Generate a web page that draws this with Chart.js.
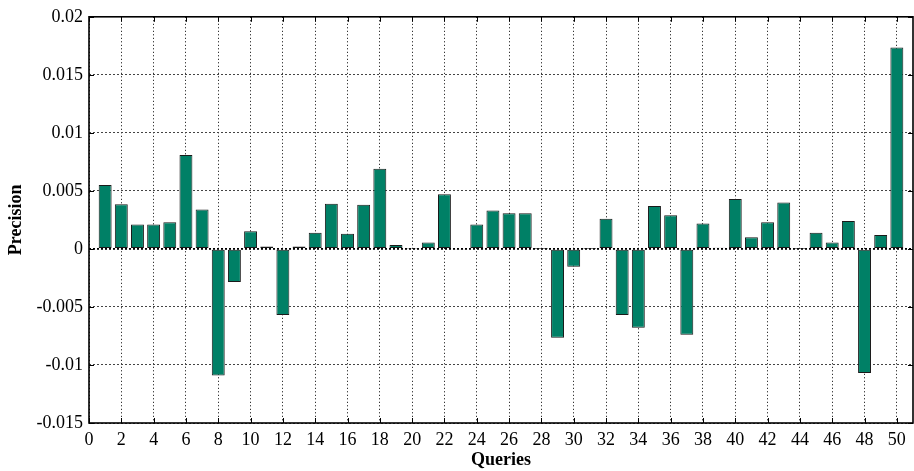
<!DOCTYPE html>
<html>
<head>
<meta charset="utf-8">
<script src="https://cdn.jsdelivr.net/npm/chart.js@4/dist/chart.umd.min.js"></script>
<style>
html,body{margin:0;padding:0;background:#fff;overflow:hidden;}
#c{display:block;}
</style>
</head>
<body>
<canvas id="c" width="914" height="471"></canvas>
<script>
const queries = [1,2,3,4,5,6,7,8,9,10,11,12,13,14,15,16,17,18,19,20,21,22,23,24,25,26,27,28,29,30,31,32,33,34,35,36,37,38,39,40,41,42,43,44,45,46,47,48,49,50];
const precision = [
  0.0055, 0.00385, 0.0021, 0.0021, 0.0023, 0.0081, 0.0034, -0.0109, -0.00285, 0.00153,
  0.0002, -0.0057, 0.0002, 0.0014, 0.0039, 0.0013, 0.0038, 0.0069, 0.00033, 0.00003,
  0.00056, 0.0047, -0.00004, 0.0021, 0.0033, 0.00307, 0.00307, 0.00002, -0.00765, -0.00153,
  0.00002, 0.0026, -0.0057, -0.0068, 0.0037, 0.0029, -0.0074, 0.0022, 0.0001, 0.0043,
  0.001, 0.0023, 0.0040, 0.00002, 0.0014, 0.00056, 0.0024, -0.0107, 0.0012, 0.01736
];
const xTicks = [0,2,4,6,8,10,12,14,16,18,20,22,24,26,28,30,32,34,36,38,40,42,44,46,48,50];
const yTicks = [-0.015,-0.01,-0.005,0,0.005,0.01,0.015,0.02];
const yTickLabels = ['-0.015','-0.01','-0.005','0','0.005','0.01','0.015','0.02'];

const FONT = '"Liberation Serif","Times New Roman",serif';

const boxPlugin = {
  id: 'box',
  afterDraw(chart){
    const {ctx, chartArea:a, scales:{x, y}} = chart;
    ctx.save();
    ctx.strokeStyle = '#000';
    ctx.lineWidth = 1;
    ctx.beginPath();
    x.ticks.forEach(t => {
      const px = Math.round(x.getPixelForValue(t.value)) + 0.5;
      ctx.moveTo(px, a.bottom); ctx.lineTo(px, a.bottom - 5);
      ctx.moveTo(px, a.top); ctx.lineTo(px, a.top + 5);
    });
    y.ticks.forEach(t => {
      const py = Math.round(y.getPixelForValue(t.value)) + 0.5;
      ctx.moveTo(a.left, py); ctx.lineTo(a.left + 5, py);
      ctx.moveTo(a.right, py); ctx.lineTo(a.right - 5, py);
    });
    ctx.stroke();
    ctx.lineWidth = 1.6;
    ctx.strokeRect(a.left, a.top, a.right - a.left, a.bottom - a.top);
    ctx.restore();
  }
};

new Chart(document.getElementById('c'), {
  type: 'bar',
  data: {
    datasets: [{
      data: queries.map((q, i) => ({x: q, y: precision[i]})),
      backgroundColor: '#008066',
      borderColor: '#1a1a1a',
      borderWidth: 1,
      borderSkipped: false,
      barPercentage: 0.8,
      categoryPercentage: 1.0
    }]
  },
  options: {
    responsive: false,
    animation: false,
    devicePixelRatio: 1,
    layout: {padding: {top: 15, right: 1, left: 0, bottom: 0}},
    plugins: {legend: {display: false}, tooltip: {enabled: false}},
    scales: {
      x: {
        type: 'linear',
        offset: false,
        min: 0, max: 51,
        afterBuildTicks(s){ s.ticks = xTicks.map(v => ({value: v})); },
        afterFit(s){ s.height = 48; },
        ticks: {
          color: '#000', padding: 6, maxRotation: 0, autoSkip: false,
          font: {family: FONT, size: 18},
          callback: v => String(v)
        },
        grid: {color: '#000', lineWidth: 1, drawTicks: false, offset: false},
        border: {display: false, dash: [1, 2.5]},
        title: {
          display: true, text: 'Queries', color: '#000',
          font: {family: FONT, size: 18, weight: 'bold'},
          padding: {top: 0, bottom: 0}
        }
      },
      y: {
        type: 'linear',
        min: -0.015, max: 0.02,
        afterBuildTicks(s){ s.ticks = yTicks.map(v => ({value: v})); },
        afterFit(s){ s.width = 89; },
        ticks: {
          color: '#000', padding: 6,
          font: {family: FONT, size: 18},
          callback: (v) => { const i = yTicks.findIndex(t => Math.abs(t - v) < 1e-9); return i >= 0 ? yTickLabels[i] : ''; }
        },
        grid: {
          color: c => (c.tick && Math.abs(c.tick.value) < 1e-12) ? '#000' : '#444',
          lineWidth: c => (c.tick && Math.abs(c.tick.value) < 1e-12) ? 1.8 : 1,
          drawTicks: false
        },
        border: {display: false, dash: [2, 2]},
        title: {
          display: true, text: 'Precision', color: '#000',
          font: {family: FONT, size: 18, weight: 'bold'},
          padding: {top: 6, bottom: 0}
        }
      }
    }
  },
  plugins: [boxPlugin]
});
</script>
</body>
</html>
